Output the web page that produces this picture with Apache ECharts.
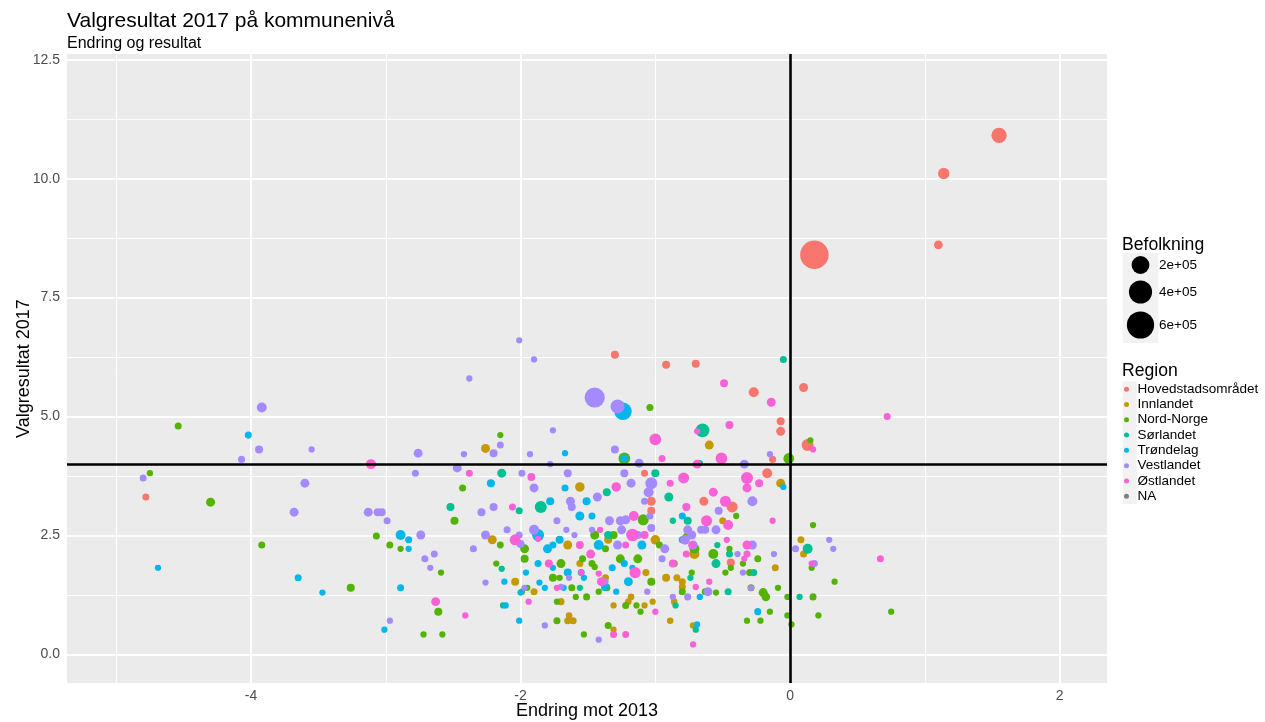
<!DOCTYPE html>
<html>
<head>
<meta charset="utf-8">
<script src="https://cdn.jsdelivr.net/npm/echarts@6/dist/echarts.min.js"></script>
<style>
html,body{margin:0;padding:0;background:#fff;}
#chart{width:1265px;height:722px;}
</style>
</head>
<body>
<div id="chart"></div>
<script>
// [endring mot 2013, valgresultat 2017, befolkning]
var hovedstad=[
[1.55,10.91,130000],[1.14,10.11,50000],[1.10,8.61,17000],[0.18,8.40,670000],
[-0.27,5.51,30000],[0.10,5.61,20000],[-1.30,6.30,11000],[-0.92,6.09,11000],[-0.70,6.11,11000],
[-0.07,4.90,11000],[-0.07,4.69,19000],[0.13,4.40,60000],[-0.13,4.10,5000],[-4.78,3.31,5000],
[-1.08,3.81,5000],[-1.03,3.22,19000],[-1.03,3.02,11000],[-0.64,3.22,19000],[-0.43,3.10,44000],
[-0.17,3.81,30000],[-0.44,1.93,11000]
];
var innlandet=[
[-0.60,4.40,19000],[-2.26,4.33,19000],[-1.56,3.52,25000],[-1.00,2.41,25000],[-1.65,2.30,19000],
[-1.35,2.41,11000],[-0.71,2.11,30000],[-0.50,2.81,5000],[-0.07,3.60,19000],[0.08,2.41,5000],
[0.10,2.11,5000],[-0.80,1.53,5000],[-0.80,1.42,5000],[-0.92,1.61,11000],[-0.84,1.61,5000],
[-1.07,1.72,5000],[-1.37,1.61,5000],[-2.04,1.53,11000],[-1.90,1.32,5000],[-1.70,1.11,5000],
[-1.64,0.82,3000],[-1.65,0.71,5000],[-1.61,0.71,5000],[-1.18,1.21,3000],[-1.20,1.11,3000],
[-1.31,1.03,2000],[-1.08,1.03,2000],[-1.02,1.11,2000],[-0.86,1.11,3000],[-0.89,0.71,3000],
[-0.72,0.61,3000],[-1.31,0.52,2000],[-0.11,1.82,5000],[-2.21,2.41,19000],[-1.56,1.91,5000]
];
var nordnorge=[
[-1.23,4.12,55000],[-1.04,5.19,5000],[-0.01,4.12,40000],[0.15,4.50,2000],[-2.15,4.61,2000],
[-4.54,4.80,5000],[-4.75,3.81,2000],[-4.30,3.20,19000],[-2.43,3.50,5000],[-2.49,2.81,11000],
[-3.07,2.49,5000],[-2.97,2.30,5000],[-2.89,2.22,2000],[-3.92,2.30,5000],[-3.26,1.40,11000],
[-2.61,0.90,11000],[-2.72,0.42,2000],[-2.58,0.42,2000],[-2.59,1.72,2000],[-2.15,2.30,4000],
[-2.18,1.91,2000],[-1.97,2.22,19000],[-1.97,2.01,11000],[-1.95,1.40,2000],[-1.99,1.32,2000],
[-1.45,2.51,19000],[-1.31,2.51,11000],[-1.09,2.83,44000],[-1.37,2.22,5000],[-1.26,2.01,19000],
[-1.13,2.01,19000],[-0.97,2.30,5000],[-0.86,1.91,5000],[-0.71,2.22,30000],[-0.77,2.49,2000],
[-0.40,2.91,2000],[-0.57,2.11,30000],[-0.45,2.22,2000],[-0.35,1.91,2000],[-0.24,2.01,5000],
[-0.44,1.82,2000],[-0.48,1.72,2000],[-0.30,1.72,5000],[-0.29,1.40,5000],[-0.09,1.40,2000],
[-0.20,1.30,19000],[-0.18,1.21,15000],[-0.02,1.21,2000],[0.17,1.21,5000],[0.33,1.53,2000],
[0.17,2.72,2000],[0.16,1.82,2000],[-0.15,0.90,2000],[-0.02,0.82,2000],[0.21,0.82,2000],
[0.01,0.63,2000],[0.75,0.90,2000],[-0.32,0.71,2000],[-0.22,0.71,2000],[-0.55,1.30,2000],
[-0.63,1.32,5000],[-0.80,1.32,5000],[-0.73,1.72,2000],[-1.03,1.53,11000],[-1.36,1.40,5000],
[-1.62,1.40,5000],[-1.76,1.61,11000],[-1.71,1.61,2000],[-1.42,1.32,2000],[-1.51,1.21,5000],
[-1.59,1.21,2000],[-1.73,1.11,2000],[-1.73,0.71,5000],[-1.22,1.03,5000],[-1.14,1.03,2000],
[-1.11,0.90,2000],[-1.35,0.61,5000],[-1.53,0.42,2000],[-1.70,1.91,19000],[-1.54,2.01,5000],
[-1.47,1.91,5000],[-1.45,1.84,2000],[0.13,2.22,19000]
];
var sorlandet=[
[-0.05,6.20,5000],[-0.65,4.71,95000],[-2.14,3.81,19000],[-1.85,3.10,60000],[-2.01,3.02,5000],
[-2.52,3.10,11000],[-1.36,3.41,11000],[-1.00,3.81,11000],[-0.90,3.31,19000],[-1.35,2.51,11000],
[-0.76,2.81,11000],[-0.80,2.41,5000],[-0.54,2.30,2000],[-0.45,2.11,5000],[-0.55,1.91,19000],
[-0.27,1.72,5000],[-0.46,1.32,5000],[-0.74,1.61,2000],[-0.85,1.03,2000],[-0.70,0.52,2000],
[0.07,1.21,2000],[0.13,2.22,30000],[-2.14,1.80,2000],[-2.13,1.03,2000],[-0.67,4.02,2000],
[-0.87,2.81,2000],[-1.36,1.42,2000],[-1.56,1.40,2000]
];
var trondelag=[
[-1.24,5.11,190000],[-1.23,4.12,11000],[-1.67,4.23,2000],[-4.02,4.61,5000],[-2.22,3.60,11000],
[-1.78,3.22,11000],[-1.67,3.50,5000],[-1.51,3.22,11000],[-0.05,3.52,2000],[-1.87,2.51,60000],
[-2.89,2.51,30000],[-2.83,2.41,5000],[-2.83,2.22,2000],[-4.69,1.82,2000],[-3.65,1.61,5000],
[-3.47,1.30,2000],[-2.89,1.40,5000],[-3.01,0.52,2000],[-1.87,1.91,5000],[-1.96,1.72,2000],
[-2.12,1.53,2000],[-1.86,1.51,2000],[-1.82,1.40,2000],[-2.00,1.30,2000],[-2.11,1.03,2000],
[-2.01,0.71,2000],[-1.80,2.22,19000],[-1.76,2.30,5000],[-1.71,2.41,11000],[-1.56,2.91,19000],
[-1.47,2.91,5000],[-1.42,2.30,30000],[-1.10,2.30,19000],[-0.80,2.91,5000],[-1.32,1.82,5000],
[-1.17,1.82,2000],[-1.23,1.91,5000],[-1.20,1.53,19000],[-1.55,1.72,5000],[-1.65,1.72,11000],
[-1.53,1.61,2000],[-1.38,1.40,2000],[-1.29,1.32,2000],[-0.67,1.21,2000],[-0.69,0.63,2000],
[-0.24,0.90,5000],[-1.76,1.82,2000],[-1.68,1.40,2000]
];
var vestlandet=[
[-1.45,5.40,280000],[-1.28,5.21,100000],[-2.01,6.60,1500],[-1.90,6.20,2000],[-2.38,5.80,2000],
[-1.76,4.71,2000],[-2.15,4.40,5000],[-2.76,4.23,19000],[-2.42,4.21,2000],[-2.20,4.23,11000],
[-1.93,4.21,2000],[-1.30,4.31,11000],[-0.15,4.21,2000],[-1.78,4.00,2000],[-1.12,4.02,19000],
[-0.34,4.00,19000],[-3.92,5.19,30000],[-3.94,4.31,11000],[-3.55,4.31,2000],[-4.07,4.10,5000],
[-2.47,3.92,19000],[-2.78,3.81,5000],[-1.99,3.81,5000],[-4.80,3.71,5000],[-3.60,3.60,19000],
[-3.68,2.99,19000],[-1.90,3.50,19000],[-2.20,3.10,11000],[-2.29,2.99,11000],[-3.13,2.99,19000],
[-3.06,2.99,11000],[-3.03,2.99,11000],[-2.99,2.81,5000],[-2.74,2.51,19000],[-2.71,2.01,5000],
[-2.64,2.11,5000],[-2.67,1.82,2000],[-2.97,0.71,2000],[-2.35,2.22,5000],[-2.26,2.51,19000],
[-2.26,1.51,2000],[-2.10,2.62,5000],[-2.01,2.51,5000],[-2.00,2.32,11000],[-1.90,2.62,30000],
[-1.82,0.61,2000],[-1.73,2.81,5000],[-1.63,3.22,19000],[-1.62,3.10,11000],[-1.65,3.81,11000],
[-1.43,3.31,19000],[-1.18,3.60,19000],[-1.23,3.81,11000],[-1.03,3.60,60000],[-1.05,3.41,30000],
[-1.08,3.22,5000],[-1.04,2.91,5000],[-1.03,2.66,11000],[-1.22,2.83,19000],[-1.26,2.81,19000],
[-1.34,2.81,19000],[-1.25,2.62,19000],[-1.13,2.51,11000],[-1.66,2.62,2000],[-1.60,2.51,2000],
[-1.47,2.62,2000],[-1.28,2.30,19000],[-0.93,2.22,19000],[-0.95,2.01,5000],[-0.78,2.41,30000],
[-0.76,2.62,19000],[-0.73,2.51,19000],[-0.72,2.30,19000],[-0.66,2.62,11000],[-0.63,2.62,11000],
[-0.55,2.62,19000],[-0.53,3.02,11000],[-0.28,3.22,30000],[-0.28,2.30,19000],[-0.39,2.11,2000],
[-0.12,2.11,2000],[0.04,2.22,5000],[0.29,2.41,2000],[0.32,2.22,2000],[0.18,1.91,5000],
[-0.35,1.72,2000],[-0.29,1.40,2000],[-0.61,1.32,19000],[-0.76,1.21,5000],[-0.87,1.21,2000],
[-1.06,1.32,2000],[-1.42,0.31,2000],[-1.70,1.42,2000],[-1.37,1.53,2000],[-1.64,1.61,2000],
[-1.97,1.40,2000]
];
var ostlandet=[
[-0.49,5.70,11000],[-0.14,5.30,19000],[-0.45,4.82,11000],[-1.00,4.52,55000],[0.17,4.31,2000],
[0.72,5.00,5000],[-0.95,4.12,5000],[-0.51,4.12,55000],[-0.69,4.00,19000],[-0.69,4.69,2000],
[-3.11,4.00,30000],[-2.38,3.81,5000],[-1.92,3.73,11000],[-2.06,3.10,5000],[-2.04,2.41,44000],
[-1.87,2.43,2000],[-1.29,3.52,25000],[-0.89,3.60,5000],[-0.79,3.71,44000],[-0.77,3.10,11000],
[-1.16,2.91,30000],[-1.17,2.51,70000],[-1.08,2.51,11000],[-1.41,2.62,2000],[-1.56,2.30,11000],
[-1.22,2.30,5000],[-1.48,2.11,19000],[-0.87,1.91,11000],[-0.77,2.11,5000],[-0.62,2.81,45000],
[-0.46,2.72,30000],[-0.57,3.41,19000],[-0.48,3.22,44000],[-0.32,3.71,60000],[-0.32,3.50,19000],
[-0.23,3.60,11000],[-0.13,2.81,2000],[-0.32,2.30,19000],[-0.32,2.11,5000],[-0.34,2.01,2000],
[-0.47,2.41,2000],[0.16,1.91,2000],[0.67,2.01,5000],[-1.15,1.72,48000],[-1.40,1.53,19000],
[-1.55,1.72,2000],[-1.73,1.40,2000],[-1.79,1.91,11000],[-1.94,1.11,2000],[-2.63,1.11,19000],
[-2.41,0.82,2000],[-1.00,0.90,2000],[-1.31,0.42,5000],[-1.22,0.42,5000],[-0.72,0.21,2000],
[-0.70,1.42,2000],[-0.60,1.53,2000],[-1.42,1.70,2000],[-0.73,2.30,5000]
];
var ukjent=[];

var regionNames=['Hovedstadsområdet','Innlandet','Nord-Norge','Sørlandet','Trøndelag','Vestlandet','Østlandet','NA'];
var regionData=[hovedstad,innlandet,nordnorge,sorlandet,trondelag,vestlandet,ostlandet,ukjent];
var xTicks=[-4,-2,0,2];
var xMinor=[-5,-3,-1,1];
var yTicks=[0,2.5,5,7.5,10,12.5];
var yMinor=[1.25,3.75,6.25,8.75,11.25];
var sizeBreaks=[200000,400000,600000];
var sizeLabels=['2e+05','4e+05','6e+05'];

var colors=['#F8766D','#C49A00','#53B400','#00C094','#00B6EB','#A58AFF','#FB61D7','#7F7F7F'];
var font='"Liberation Sans", Arial, sans-serif';
function sizeOf(p){ return 5+23.5*Math.sqrt(p/670000); }

var series=[];
var gridLines=[];
xMinor.forEach(function(v){gridLines.push({xAxis:v,lineStyle:{width:1}});});
yMinor.forEach(function(v){gridLines.push({yAxis:v,lineStyle:{width:1}});});
xTicks.forEach(function(v){gridLines.push({xAxis:v,lineStyle:{width:2}});});
yTicks.forEach(function(v){gridLines.push({yAxis:v,lineStyle:{width:2}});});
series.push({
    type:'scatter',name:'grid',data:[],silent:true,
    markLine:{silent:true,z:1,symbol:['none','none'],label:{show:false},
        lineStyle:{color:'#FFFFFF',type:'solid'},emphasis:{disabled:true},data:gridLines}
});
for(var i=0;i<regionNames.length;i++){
    series.push({
        type:'scatter',name:regionNames[i],data:regionData[i],z:2,
        symbolSize:function(v){return sizeOf(v[2]);},
        itemStyle:{color:colors[i],opacity:1},
        emphasis:{disabled:true}
    });
}
series.push({
    type:'scatter',name:'ref',data:[],silent:true,
    markLine:{silent:true,z:10,symbol:['none','none'],label:{show:false},
        lineStyle:{color:'#000000',type:'solid',width:2.6},emphasis:{disabled:true},
        data:[{yAxis:4},{xAxis:0}]}
});

// size legend
var graphics=[];
graphics.push({type:'text',left:1122,top:236,style:{text:'Befolkning',font:'17.6px '+font,fill:'#000'}});
var boxTop=[253,277,307], boxH=[24,30,36];
for(var k=0;k<sizeBreaks.length;k++){
    graphics.push({type:'rect',shape:{x:1122.7,y:boxTop[k],width:35.6,height:boxH[k]},style:{fill:'#F2F2F2'}});
    graphics.push({type:'circle',shape:{cx:1140.5,cy:boxTop[k]+boxH[k]/2,r:sizeOf(sizeBreaks[k])/2},style:{fill:'#000'}});
    graphics.push({type:'text',x:1159,y:boxTop[k]+boxH[k]/2,style:{text:sizeLabels[k],font:'13.5px '+font,fill:'#000',verticalAlign:'middle'}});
}
graphics.push({type:'text',left:1122,top:362,style:{text:'Region',font:'17.6px '+font,fill:'#000'}});
graphics.push({type:'rect',z:-1,shape:{x:1122.7,y:381.5,width:14,height:122.4},style:{fill:'#F2F2F2'}});

var chart=echarts.init(document.getElementById('chart'));
chart.setOption({
    animation:false,
    textStyle:{fontFamily:font},
    title:{
        text:'Valgresultat 2017 på kommunenivå',
        subtext:'Endring og resultat',
        left:67,top:11,padding:0,itemGap:4,
        textStyle:{fontSize:21,fontWeight:'normal',color:'#000',fontFamily:font},
        subtextStyle:{fontSize:16,color:'#000',fontFamily:font}
    },
    grid:{left:67,right:158,top:54,bottom:39,show:true,backgroundColor:'#EBEBEB',borderWidth:0,
        containLabel:false,outerBoundsMode:'none'},
    xAxis:{
        type:'value',min:-5.365,max:2.351,
        name:'Endring mot 2013',nameLocation:'middle',nameGap:19,nameMoveOverlap:false,
        nameTextStyle:{fontSize:18,color:'#000',fontFamily:font},
        axisLine:{show:false},
        splitLine:{show:false},
        axisTick:{show:true,customValues:xTicks,length:4,lineStyle:{color:'#333333',width:1}},
        axisLabel:{customValues:xTicks,fontSize:14,color:'#4D4D4D',margin:6,fontFamily:font}
    },
    yAxis:{
        type:'value',min:-0.60,max:12.62,
        name:'Valgresultat 2017',nameLocation:'middle',nameGap:34,nameMoveOverlap:false,
        nameTextStyle:{fontSize:18,color:'#000',fontFamily:font},
        axisLine:{show:false},
        splitLine:{show:false},
        axisTick:{show:true,customValues:yTicks,length:4,lineStyle:{color:'#333333',width:1}},
        axisLabel:{customValues:yTicks,fontSize:14,color:'#4D4D4D',margin:7,fontFamily:font,
            formatter:function(v){return v.toFixed(1);}}
    },
    legend:{
        data:regionNames,orient:'vertical',left:1124,top:381.5,
        itemWidth:12,itemHeight:5,itemGap:0,icon:'circle',selectedMode:false,padding:0,
        textStyle:{fontSize:13.5,lineHeight:15.3,color:'#000',fontFamily:font,padding:[0,0,0,0]}
    },
    graphic:graphics,
    series:series
});
</script>
</body>
</html>
